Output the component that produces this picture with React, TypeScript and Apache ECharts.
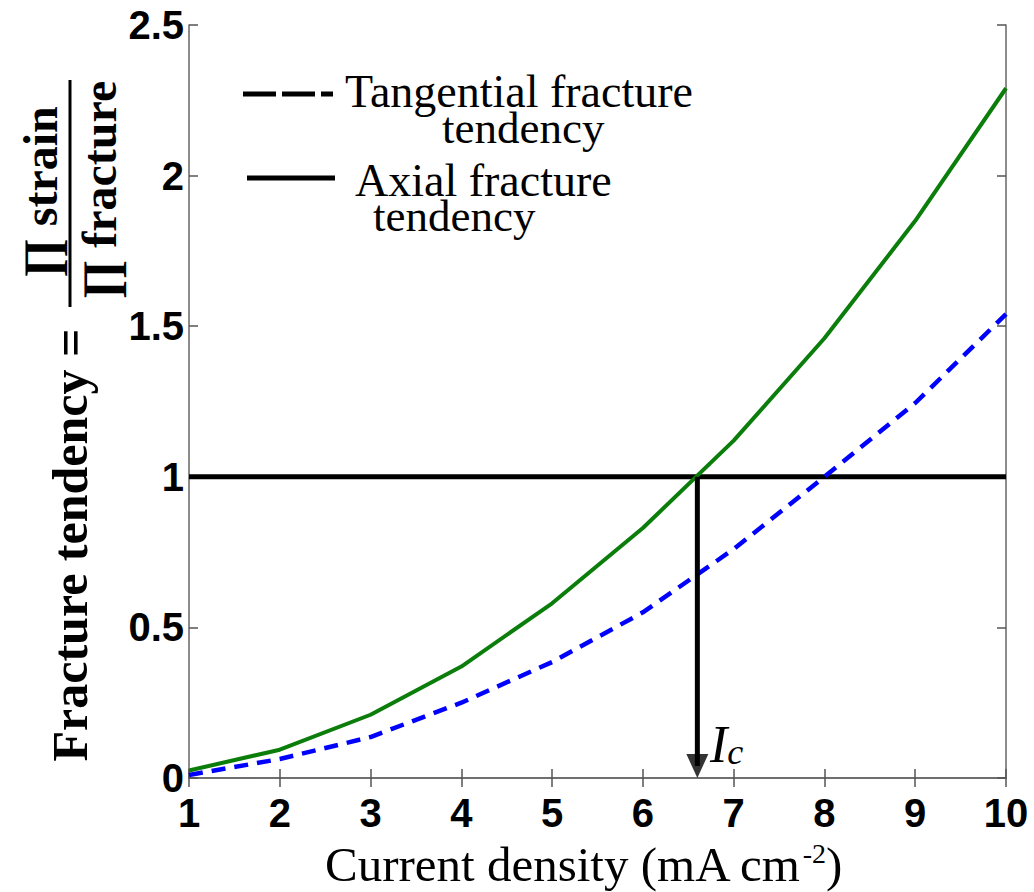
import React, { useEffect, useRef } from "react";
import * as echarts from "echarts";

const currentDensity = [1, 2, 3, 4, 5, 6, 7, 8, 9, 10];
const tangential = [0.01, 0.063, 0.136, 0.25, 0.385, 0.55, 0.76, 1.0, 1.245, 1.54];
const axial = [0.025, 0.094, 0.21, 0.37, 0.58, 0.83, 1.12, 1.46, 1.85, 2.29];
const thresholdLevel = 1;
const criticalDensity = 6.6;
const xTicks = { min: 1, max: 10, interval: 1 };
const yTicks = { min: 0, max: 2.5, interval: 0.5 };

const tickFont = "'Liberation Sans Narrow', 'Arial Narrow', 'Liberation Sans', Arial, sans-serif";
const serif = "'Liberation Serif', 'Times New Roman', serif";

export default function App() {
  const ref = useRef<HTMLDivElement>(null);
  useEffect(() => {
    document.body.style.margin = "0";
    if (!ref.current) return;
    const chart = echarts.init(ref.current, null, { renderer: "svg" });
    const axisLabel = {
      fontFamily: tickFont,
      fontWeight: "bold" as const,
      fontSize: 40,
      color: "#000",
    };
    const axisLine = { show: true, lineStyle: { color: "#666", width: 1.5 } };
    const axisTick = { show: true, inside: true, length: 9, lineStyle: { color: "#555", width: 1.5 } };
    chart.setOption({
      animation: false,
      backgroundColor: "#fff",
      grid: { left: 189, right: 28, top: 25, bottom: 114, containLabel: false },
      xAxis: [
        {
          type: "value",
          ...xTicks,
          axisLine,
          axisTick,
          splitLine: { show: false },
          axisLabel: { ...axisLabel, margin: 15 },
        },
        {
          type: "value",
          position: "top",
          ...xTicks,
          axisLine,
          axisTick,
          splitLine: { show: false },
          axisLabel: { show: false },
        },
      ],
      yAxis: [
        {
          type: "value",
          ...yTicks,
          axisLine,
          axisTick,
          splitLine: { show: false },
          axisLabel: { ...axisLabel, margin: 5 },
        },
        {
          type: "value",
          position: "right",
          ...yTicks,
          axisLine,
          axisTick,
          splitLine: { show: false },
          axisLabel: { show: false },
        },
      ],
      series: [
        {
          name: "Threshold",
          type: "line",
          symbol: "none",
          data: [
            [xTicks.min, thresholdLevel],
            [xTicks.max, thresholdLevel],
          ],
          lineStyle: { color: "#000", width: 5 },
          z: 3,
        },
        {
          name: "Tangential fracture tendency",
          type: "line",
          symbol: "none",
          data: currentDensity.map((x, i) => [x, tangential[i]]),
          lineStyle: { color: "#0000ff", width: 4.5, type: [14, 9] },
          z: 4,
        },
        {
          name: "Axial fracture tendency",
          type: "line",
          symbol: "none",
          data: currentDensity.map((x, i) => [x, axial[i]]),
          lineStyle: { color: "#0a7d0a", width: 4 },
          z: 4,
        },
        {
          name: "Ic",
          type: "line",
          symbol: "none",
          data: [
            [criticalDensity, thresholdLevel],
            [criticalDensity, 0.04],
          ],
          lineStyle: { color: "#000", width: 5 },
          z: 5,
        },
        {
          name: "IcHead",
          type: "scatter",
          data: [[criticalDensity, 0]],
          symbol: "triangle",
          symbolRotate: 180,
          symbolSize: [22, 24],
          symbolOffset: [0, -12],
          itemStyle: { color: "#000" },
          clip: false,
          z: 6,
        },
      ],
      graphic: [
        // legend
        {
          type: "line",
          shape: { x1: 243, y1: 94, x2: 333, y2: 94 },
          style: { stroke: "#000", lineWidth: 5, lineDash: [33, 6] },
        },
        {
          type: "text",
          x: 345,
          y: 91,
          style: { text: "Tangential fracture", fontFamily: serif, fontSize: 46, fill: "#000", align: "left", verticalAlign: "middle" },
        },
        {
          type: "text",
          x: 442,
          y: 128,
          style: { text: "tendency", fontFamily: serif, fontSize: 45, fill: "#000", align: "left", verticalAlign: "middle" },
        },
        {
          type: "line",
          shape: { x1: 247, y1: 178, x2: 335, y2: 178 },
          style: { stroke: "#000", lineWidth: 5 },
        },
        {
          type: "text",
          x: 355,
          y: 180,
          style: { text: "Axial fracture", fontFamily: serif, fontSize: 46, fill: "#000", align: "left", verticalAlign: "middle" },
        },
        {
          type: "text",
          x: 373,
          y: 216,
          style: { text: "tendency", fontFamily: serif, fontSize: 45, fill: "#000", align: "left", verticalAlign: "middle" },
        },
        // Ic label
        {
          type: "text",
          x: 710,
          y: 744,
          style: {
            text: "{i|I}{s|c}",
            align: "left",
            verticalAlign: "middle",
            rich: {
              i: { fontFamily: serif, fontStyle: "italic", fontSize: 52, fill: "#000" },
              s: { fontFamily: serif, fontStyle: "italic", fontSize: 36, fill: "#000", verticalAlign: "bottom", lineHeight: 44 },
            },
          },
        },
        // x axis title
        {
          type: "text",
          x: 325,
          y: 864,
          style: {
            text: "{a|Current density (mA cm}{b|-2}{a|)}",
            align: "left",
            verticalAlign: "middle",
            rich: {
              a: { fontFamily: serif, fontSize: 49, fill: "#000" },
              b: { fontFamily: serif, fontSize: 28, fill: "#000", verticalAlign: "top", lineHeight: 48 },
            },
          },
        },
        // y axis title
        {
          type: "text",
          x: 70,
          y: 545,
          rotation: Math.PI / 2,
          style: { text: "Fracture tendency =", fontFamily: serif, fontWeight: "bold", fontSize: 50, fill: "#000", align: "center", verticalAlign: "middle" },
        },
        {
          type: "text",
          x: 40,
          y: 192,
          rotation: Math.PI / 2,
          style: { text: "\u220F strain", fontFamily: serif, fontWeight: "bold", fontSize: 48, fill: "#000", align: "center", verticalAlign: "middle" },
        },
        {
          type: "line",
          shape: { x1: 70, y1: 80, x2: 70, y2: 307 },
          style: { stroke: "#000", lineWidth: 3 },
        },
        {
          type: "text",
          x: 99,
          y: 190,
          rotation: Math.PI / 2,
          style: { text: "\u220F fracture", fontFamily: serif, fontWeight: "bold", fontSize: 48, fill: "#000", align: "center", verticalAlign: "middle" },
        },
      ],
    });
    return () => chart.dispose();
  }, []);
  return <div ref={ref} style={{ width: 1034, height: 892 }} />;
}
